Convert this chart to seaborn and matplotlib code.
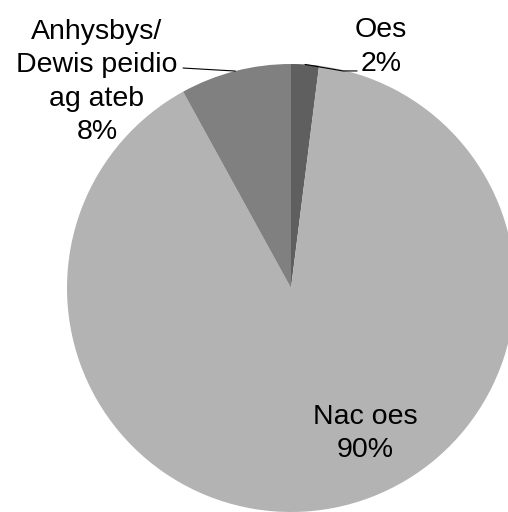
#!/usr/bin/env python3
"""Pie chart: Oes / Nac oes / Anhysbys (Welsh survey answers)."""
import numpy as np
import matplotlib
matplotlib.use('Agg')
import matplotlib.pyplot as plt
import seaborn as sns

# data
categories = ['Oes', 'Nac oes', 'Anhysbys/\nDewis peidio\nag ateb']
values = [2, 90, 8]
pct_labels = ['2%', '90%', '8%']
colors = ['#5f5f5f', '#b3b3b3', '#808080']

sns.set_theme(style='white')
plt.rcParams['font.family'] = ['Liberation Sans', 'DejaVu Sans']

fig = plt.figure(figsize=(5.08, 5.12), dpi=100)
ax = fig.add_axes([0, 0, 1, 1])

wedges, _ = ax.pie(values, colors=colors, startangle=90, counterclock=False,
                   radius=1, wedgeprops=dict(linewidth=0))

# pixel layout: centre at (291, 288), radius 224 px
ax.set_xlim(-291 / 224, (508 - 291) / 224)
ax.set_ylim(-(512 - 288) / 224, 288 / 224)
ax.set_aspect('auto')
ax.axis('off')


def mid_point(w, r=1.0):
    ang = np.deg2rad((w.theta1 + w.theta2) / 2)
    return r * np.cos(ang), r * np.sin(ang)


fs = 20.5
ls = 1.38
txt = dict(ha='center', va='center', fontsize=fs, linespacing=ls, color='black')

# Oes (leader line with elbow)
x0, y0 = mid_point(wedges[0])
ax.plot([x0, 0.232, 0.295], [y0, 0.969, 0.969], color='black', lw=0.8)
ax.text(0.402, 1.075, categories[0] + '\n' + pct_labels[0], **txt)

# Anhysbys (leader line)
x2, y2 = mid_point(wedges[2])
ax.plot([x2, -0.482], [y2, 0.982], color='black', lw=0.8)
ax.text(-0.866, 0.920, categories[2] + '\n' + pct_labels[2], **txt)

# Nac oes, inside slice
ax.text(0.330, -0.650, categories[1] + '\n' + pct_labels[1], **txt)

fig.savefig('out.png', dpi=100, facecolor='white')
